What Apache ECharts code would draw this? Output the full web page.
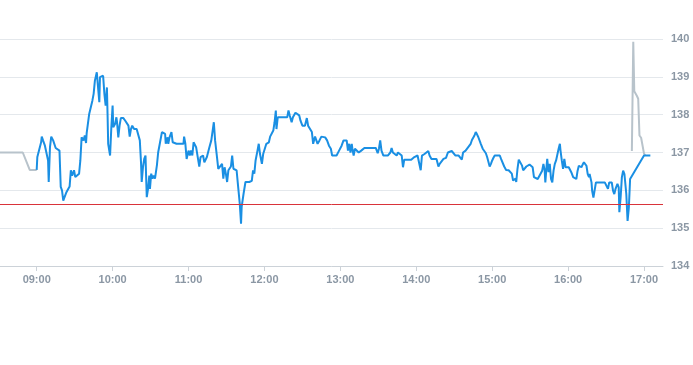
<!DOCTYPE html>
<html>
<head>
<meta charset="utf-8">
<script src="https://cdn.jsdelivr.net/npm/echarts@6/dist/echarts.min.js"></script>
<style>
html,body{margin:0;padding:0;background:#fff;}
#chart{width:693px;height:365px;}
</style>
</head>
<body>
<div id="chart"></div>
<script>
// minutes after 09:00 and price, regular session (blue)
const blueMin = [0,0.5,1.5,2,3.5,4,5,5.5,6.5,7.5,9,9.5,10.5,11.5,13,14,15,16.5,18,19,20,21,22.5,23.5,25,26,27,28,29.5,30.5,32,33.5,34.5,35.5,37,38,39,39.5,40.5,41.5,43,44,45,46,47.5,48.5,49.5,50,51,52.5,53.5,54.5,55.5,56,56.5,58,59,60,60.5,62,63,63.5,64.5,65.5,66.5,68.5,70,71,72.5,73.5,74.5,75.5,77,79,80.5,81.5,82.5,83,84,85,86,86.5,87,88,89,89.5,90.5,91.5,92.5,93.5,95,96,97.5,99,100.5,101.5,102,103.5,104,105,106,106.5,107.5,109,110.5,113.5,116,116.5,117.5,118.5,120,121,122,123,124,125,126,127.5,128.5,129.5,130.5,131.5,132.5,133.5,134.5,135.5,136.5,138,139,140,141,142.5,143.5,145,146.5,147.5,148.5,149.5,150.5,151.5,153.5,154.5,155.5,156.5,158,159,160,160.5,161.5,162,163.5,165,166.5,168,170,171,172,173,174.5,175.5,176.5,178,179,180.5,181.5,183.5,184.5,186,187,188,189,189.5,190.5,191,193,195,198,199,200,201.5,202.5,204.5,206,207.5,208.5,210,212,213.5,214.5,216,217.5,218.5,220,221,222,223.5,225,228,229.5,231,232.5,233.5,235,237,239,241,242.5,245,246,247,248,249,249.5,250.5,251.5,253,254.5,256.5,259,261.5,264.5,268,269.5,270.5,271.5,272.5,274,275.5,277.5,279.5,280.5,281.5,283,284.5,285.5,287,288.5,289.5,290.5,291.5,293.5,296,298.5,299.5,301,302.5,303.5,304.5,305.5,306.5,308,309.5,310.5,312,314,316,317.5,318.5,320,321.5,323.5,325,326.5,328,329.5,331,333.5,335,336,337,338,339,340,341.5,343,344,345,346,347,348,349,350,351,352.5,354,355,356,357,358,359,360,361,362,364,366,367,368,369.5,371,373,374.5,375.5,376.5,377,378.5,379,380,381,382.5,383.5,384.5,385.5,387,388.5,389.5,390.5,392,393,394.5,396,397.5,399.5,400.5,401.5,402,403,403.5,404.5,405.5,406.5,407.5,408.5,409.5,410.5,411.5,412.5,413.5,414,415,416,417,418,419,420.5,421.5,422.5,424,425,426.5,427.5,428.5,429.5,430.5,431.5,432.5,433.5,434.5,435.5,436.5,437,438.5,439,440,441,442,443.5,446,449,450.5,451.5,452.5,453.5,454.5,455.5,456.5,457.5,459,460,460.5,461.5,462.5,463.5,464.5,465,466,467,468,469,470,480,485];
const blueVal = [136.54,136.88,136.92,136.83,137.27,137.42,137.32,137.34,137.18,137.22,136.79,136.22,137.14,137.42,137.32,137.27,137.12,137.10,137.05,136.09,136.00,135.73,135.72,135.95,136.04,136.10,136.53,136.39,136.53,136.35,136.31,136.44,136.79,137.40,137.32,137.45,137.25,137.51,137.48,138.02,138.06,138.37,138.55,138.90,139.12,138.72,138.33,138.99,139.03,139.03,138.55,138.24,138.72,138.02,137.23,136.92,137.67,138.24,137.67,137.76,137.93,137.80,137.40,137.71,137.91,137.91,137.84,137.80,137.71,137.42,137.62,137.71,137.62,137.62,137.58,137.32,136.70,136.22,136.61,136.83,136.92,136.35,135.82,136.04,136.39,136.04,136.44,136.31,136.39,136.31,136.66,137.00,137.27,137.54,137.54,137.49,137.23,137.40,137.23,137.40,137.36,137.54,137.27,137.23,137.23,137.23,137.23,137.42,137.23,136.83,137.05,136.92,137.05,136.92,137.27,137.32,137.14,136.83,136.63,136.88,136.92,136.92,136.74,136.79,136.88,136.92,137.14,137.32,137.34,137.80,137.32,136.88,136.57,136.61,136.70,136.31,136.61,136.44,136.22,136.53,136.63,136.92,136.57,136.53,136.53,136.17,136.22,135.65,135.12,135.56,135.91,136.22,136.22,136.22,136.25,136.53,136.44,136.79,137.05,137.23,136.96,136.70,136.96,137.00,137.23,137.27,137.42,137.42,137.58,137.80,138.11,137.62,137.93,137.93,137.93,137.93,137.93,138.11,137.98,137.80,137.93,138.05,138.05,137.98,137.84,137.71,137.71,137.91,137.71,137.71,137.54,137.23,137.42,137.42,137.23,137.32,137.42,137.40,137.32,137.18,137.10,136.92,136.92,136.92,137.05,137.18,137.32,137.32,137.05,137.23,137.00,137.23,137.10,136.92,137.10,137.05,137.00,137.05,137.12,137.12,137.12,137.12,136.98,137.10,137.32,137.05,136.92,136.92,136.92,137.00,137.12,137.00,137.00,136.92,137.00,137.00,136.92,136.61,136.81,136.81,136.81,136.81,136.88,136.92,136.92,136.88,136.53,136.92,136.92,136.96,137.00,137.04,136.92,136.83,136.83,136.83,136.63,136.70,136.70,136.83,136.86,137.00,137.04,137.04,137.04,136.92,136.92,136.90,136.81,137.00,136.96,137.05,137.10,137.16,137.23,137.33,137.38,137.45,137.54,137.48,137.41,137.36,137.23,137.10,137.10,136.98,136.88,136.83,136.63,136.70,136.79,136.86,136.92,136.92,136.92,136.83,136.79,136.63,136.54,136.53,136.53,136.44,136.26,136.22,136.31,136.22,136.57,136.81,136.79,136.66,136.53,136.57,136.63,136.62,136.68,136.72,136.61,136.35,136.30,136.30,136.35,136.52,136.70,136.52,136.21,136.65,136.83,136.48,136.70,136.30,136.21,136.52,136.70,136.79,136.83,137.10,137.23,137.05,136.79,136.57,136.83,136.61,136.61,136.61,136.59,136.48,136.35,136.30,136.30,136.52,136.65,136.65,136.61,136.68,136.74,136.70,136.65,136.43,136.35,136.43,136.21,135.99,135.81,135.81,136.21,136.21,136.21,136.21,136.21,136.04,136.21,136.21,136.21,135.99,135.90,136.04,136.17,136.08,135.42,135.81,136.35,136.52,136.43,136.26,135.90,135.19,135.54,136.30,136.35,136.92,136.92];
// extended hours (grey)
const preMin = [-31,-11,-5.5,0];
const preVal = [137.00,137.00,136.54,136.54];
const postMin = [470.4,471.5,472.3,474.3,475.4,476.4,477.7,480,481];
const postVal = [137.04,139.93,138.62,138.50,138.42,137.45,137.39,136.97,136.92];
const refPrice = 135.63;
const xTickLabels = ['09:00','10:00','11:00','12:00','13:00','14:00','15:00','16:00','17:00'];

const OPEN = 540;
const toMin = s => { const p = s.split(':'); return (+p[0]) * 60 + (+p[1]); };
const fmt = m => String(Math.floor(m / 60)).padStart(2, '0') + ':' + String(Math.round(m % 60)).padStart(2, '0');
const tickVals = xTickLabels.map(toMin);
const pair = (ms, vs) => ms.map((m, i) => [OPEN + m, vs[i]]);

const labelStyle = {color: '#8b97a4', fontSize: 11, fontWeight: 'bold', fontFamily: 'Liberation Sans, Arial, sans-serif'};
const chart = echarts.init(document.getElementById('chart'), null, {renderer: 'canvas'});
chart.setOption({
  animation: false,
  grid: {left: 0, right: 30, top: 39, bottom: 99, containLabel: false},
  xAxis: {
    type: 'value',
    min: 511, max: 1035,
    axisLine: {show: true, lineStyle: {color: '#ccd2d8', width: 1}},
    axisTick: {show: true, customValues: tickVals, length: 5, lineStyle: {color: '#ccd2d8'}},
    axisLabel: Object.assign({customValues: tickVals, formatter: v => fmt(v), margin: 8}, labelStyle),
    splitLine: {show: false}
  },
  yAxis: {
    type: 'value', position: 'right',
    min: 134, max: 140, interval: 1,
    axisLine: {show: false}, axisTick: {show: false},
    axisLabel: Object.assign({margin: 8}, labelStyle),
    splitLine: {show: true, lineStyle: {color: '#e4e8ec', width: 1}}
  },
  series: [
    {type: 'line', data: pair(preMin, preVal), showSymbol: false, lineStyle: {color: '#b8c3cb', width: 2}, itemStyle: {color: '#b8c3cb'}, z: 2},
    {type: 'line', data: pair(postMin, postVal), showSymbol: false, lineStyle: {color: '#b8c3cb', width: 2}, itemStyle: {color: '#b8c3cb'}, z: 2},
    {type: 'line', data: pair(blueMin, blueVal), showSymbol: false, lineStyle: {color: '#1a8fe3', width: 2}, itemStyle: {color: '#1a8fe3'}, z: 3,
      markLine: {silent: true, symbol: 'none', label: {show: false}, lineStyle: {color: '#d9333a', width: 1, type: 'solid'}, data: [{yAxis: refPrice}]}}
  ]
});
</script>
</body>
</html>
